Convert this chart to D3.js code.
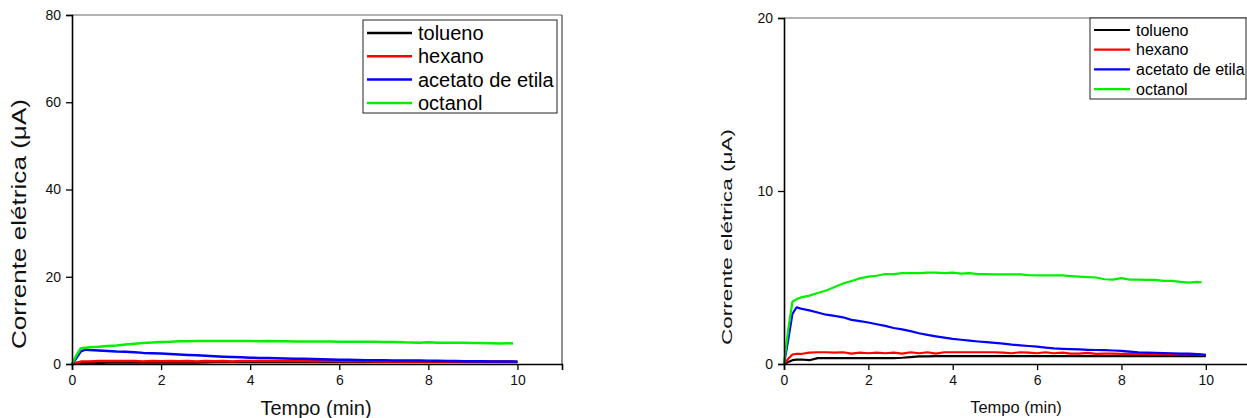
<!DOCTYPE html>
<html>
<head>
<meta charset="utf-8">
<script src="https://cdn.jsdelivr.net/npm/d3@7"></script>
<style>
  html, body { margin: 0; padding: 0; background: #fff; }
  svg { display: block; font-family: "Liberation Sans", Arial, sans-serif; }
</style>
</head>
<body>
<svg id="chart" width="1247" height="418"></svg>
<script>
// Time axis (min)
const times = [0, 0.1, 0.2, 0.3, 0.4, 0.6, 0.8, 1.0, 1.2, 1.4, 1.6, 1.8, 2.0, 2.2, 2.4, 2.6, 2.8,
  3.0, 3.2, 3.4, 3.6, 3.8, 4.0, 4.2, 4.4, 4.6, 4.8, 5.0, 5.2, 5.4, 5.6, 5.8, 6.0, 6.2, 6.4, 6.6,
  6.8, 7.0, 7.2, 7.4, 7.6, 7.8, 8.0, 8.2, 8.4, 8.6, 8.8, 9.0, 9.2, 9.4, 9.6, 9.8, 9.9, 10.0];

// Electric current (µA) per solvent
const tolueno = [0, 0.12, 0.22, 0.25, 0.26, 0.22, 0.34, 0.34, 0.34, 0.34, 0.34, 0.34, 0.34, 0.34, 0.34, 0.34, 0.36,
  0.40, 0.44, 0.44, 0.45, 0.45, 0.45, 0.45, 0.45, 0.45, 0.45, 0.45, 0.45, 0.45, 0.46, 0.46, 0.46, 0.46, 0.46, 0.46,
  0.46, 0.46, 0.46, 0.46, 0.46, 0.46, 0.46, 0.46, 0.46, 0.46, 0.46, 0.46, 0.46, 0.46, 0.46, 0.46, 0.46, 0.46];
const hexano = [0, 0.30, 0.55, 0.58, 0.58, 0.66, 0.68, 0.68, 0.66, 0.68, 0.60, 0.66, 0.62, 0.66, 0.62, 0.66, 0.60,
  0.68, 0.62, 0.68, 0.60, 0.68, 0.68, 0.68, 0.68, 0.68, 0.68, 0.68, 0.66, 0.62, 0.68, 0.66, 0.62, 0.68, 0.62, 0.66,
  0.60, 0.60, 0.64, 0.58, 0.60, 0.60, 0.58, 0.60, 0.58, 0.58, 0.56, 0.56, 0.56, 0.55, 0.55, 0.55, 0.52, 0.52];
const acetato = [0, 1.40, 2.90, 3.28, 3.20, 3.10, 2.98, 2.85, 2.78, 2.70, 2.55, 2.48, 2.40, 2.30, 2.20, 2.08, 2.00,
  1.90, 1.78, 1.68, 1.60, 1.52, 1.45, 1.40, 1.35, 1.30, 1.26, 1.22, 1.18, 1.12, 1.08, 1.04, 1.00, 0.95, 0.90, 0.88,
  0.86, 0.84, 0.82, 0.81, 0.80, 0.78, 0.76, 0.72, 0.68, 0.66, 0.65, 0.63, 0.62, 0.60, 0.60, 0.57, 0.56, 0.53];
const octanol = [0, 2.00, 3.60, 3.75, 3.85, 3.95, 4.10, 4.25, 4.45, 4.65, 4.80, 4.95, 5.05, 5.10, 5.20, 5.20, 5.25,
  5.25, 5.25, 5.28, 5.28, 5.25, 5.28, 5.22, 5.25, 5.20, 5.20, 5.18, 5.18, 5.18, 5.18, 5.14, 5.12, 5.12, 5.12, 5.12,
  5.08, 5.05, 5.02, 5.00, 4.90, 4.88, 4.96, 4.88, 4.88, 4.86, 4.86, 4.80, 4.80, 4.75, 4.70, 4.75, 4.72, null];

const seriesNames = ["tolueno", "hexano", "acetato de etila", "octanol"];
const seriesValues = [tolueno, hexano, acetato, octanol];
const seriesColors = ["#000000", "#ff0000", "#0000ff", "#00f000"];

const xTicks = [0, 2, 4, 6, 8, 10];
const yTicksLeft = [0, 20, 40, 60, 80];
const yTicksRight = [0, 10, 20];

const xTitle = "Tempo (min)";
const yTitle = "Corrente elétrica (μA)";

const svg = d3.select("#chart");

function drawPanel(cfg) {
  const g = svg.append("g");
  const x = d3.scaleLinear().domain([0, 11]).range([cfg.left, cfg.right]);
  const y = d3.scaleLinear().domain([0, cfg.yMax]).range([cfg.bottom, cfg.top]);

  // frame: top and right edges
  g.append("line").attr("x1", cfg.left).attr("x2", cfg.right).attr("y1", cfg.top).attr("y2", cfg.top)
    .attr("stroke", "#666").attr("stroke-width", 1);
  g.append("line").attr("x1", cfg.right).attr("x2", cfg.right).attr("y1", cfg.top).attr("y2", cfg.bottom)
    .attr("stroke", "#222").attr("stroke-width", 1);

  // series lines
  const line = d3.line()
    .defined(d => d[1] !== null)
    .x(d => x(d[0]))
    .y(d => y(d[1]));
  seriesValues.forEach((vals, i) => {
    g.append("path")
      .datum(times.map((t, k) => [t, vals[k]]))
      .attr("fill", "none")
      .attr("stroke", seriesColors[i])
      .attr("stroke-width", cfg.lineWidth)
      .attr("stroke-linejoin", "round")
      .attr("d", line);
  });

  // axes
  const xAxis = g.append("g").attr("transform", `translate(0,${cfg.bottom})`)
    .call(d3.axisBottom(x).tickValues(xTicks).tickSize(6).tickPadding(5).tickFormat(d3.format("d")));
  const yAxis = g.append("g").attr("transform", `translate(${cfg.left},0)`)
    .call(d3.axisLeft(y).tickValues(cfg.yTicks).tickSize(6).tickPadding(5).tickFormat(d3.format("d")));
  [xAxis, yAxis].forEach(a => {
    a.select(".domain").attr("stroke", "#000").attr("stroke-width", 1.6);
    a.selectAll(".tick line").attr("stroke", "#000").attr("stroke-width", 1.3);
    a.selectAll(".tick text").attr("fill", "#111").attr("font-size", cfg.tickFont)
      .attr("font-family", "Liberation Sans, Arial, sans-serif");
  });

  // axis titles
  g.append("text").attr("x", cfg.xTitleX).attr("y", cfg.xTitleY)
    .attr("text-anchor", "middle").attr("font-size", cfg.titleFont).attr("fill", "#111").text(xTitle);
  g.append("text").attr("transform", `translate(${cfg.yTitleX},${cfg.yTitleY}) rotate(-90)`)
    .attr("text-anchor", "middle").attr("font-size", cfg.yTitleFont).attr("fill", "#111")
    .attr("textLength", cfg.yTitleLen).attr("lengthAdjust", "spacingAndGlyphs").text(yTitle);

  // legend
  const lg = g.append("g");
  lg.append("rect").attr("x", cfg.legX).attr("y", cfg.legY).attr("width", cfg.legW).attr("height", cfg.legH)
    .attr("fill", "#fff").attr("stroke", "#222").attr("stroke-width", 1);
  seriesNames.forEach((name, i) => {
    const yy = cfg.legY + cfg.legRow0 + i * cfg.legStep;
    lg.append("line").attr("x1", cfg.legX + 4).attr("x2", cfg.legX + 4 + cfg.legLine)
      .attr("y1", yy).attr("y2", yy).attr("stroke", seriesColors[i]).attr("stroke-width", cfg.lineWidth);
    lg.append("text").attr("x", cfg.legX + 10 + cfg.legLine).attr("y", yy).attr("dy", "0.35em")
      .attr("font-size", cfg.legFont).attr("fill", "#000").text(name);
  });
}

drawPanel({
  left: 72, right: 562, top: 15, bottom: 364, yMax: 80, yTicks: yTicksLeft,
  lineWidth: 2.5, tickFont: 14, titleFont: 20, yTitleFont: 20.5, yTitleLen: 250,
  xTitleX: 316, xTitleY: 415, yTitleX: 26, yTitleY: 224,
  legX: 363, legY: 20, legW: 194, legH: 93, legRow0: 13, legStep: 23.3, legLine: 45, legFont: 20
});

drawPanel({
  left: 784, right: 1248, top: 18, bottom: 364, yMax: 20, yTicks: yTicksRight,
  lineWidth: 2.2, tickFont: 14, titleFont: 16.5, yTitleFont: 14.5, yTitleLen: 216,
  xTitleX: 1016, xTitleY: 413, yTitleX: 732, yTitleY: 237,
  legX: 1090, legY: 18, legW: 156, legH: 81, legRow0: 12, legStep: 19.7, legLine: 36, legFont: 16
});
</script>
</body>
</html>
